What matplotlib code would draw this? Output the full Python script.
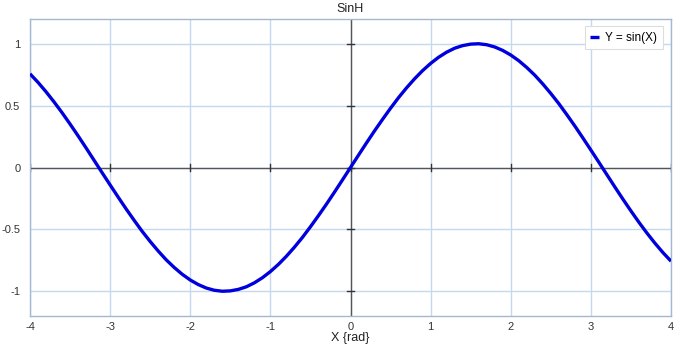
import matplotlib
matplotlib.use("Agg")
import matplotlib.pyplot as plt
import numpy as np

plt.rcParams['font.family'] = ['Liberation Sans', 'DejaVu Sans']

title = "SinH"
x_label = "X {rad}"
series_label = "Y = sin(X)"

x_values = [-4.0, -3.9, -3.8, -3.7, -3.6, -3.5, -3.4, -3.3, -3.2, -3.1,
            -3.0, -2.9, -2.8, -2.7, -2.6, -2.5, -2.4, -2.3, -2.2, -2.1,
            -2.0, -1.9, -1.8, -1.7, -1.6, -1.5, -1.4, -1.3, -1.2, -1.1,
            -1.0, -0.9, -0.8, -0.7, -0.6, -0.5, -0.4, -0.3, -0.2, -0.1,
            0.0, 0.1, 0.2, 0.3, 0.4, 0.5, 0.6, 0.7, 0.8, 0.9,
            1.0, 1.1, 1.2, 1.3, 1.4, 1.5, 1.6, 1.7, 1.8, 1.9,
            2.0, 2.1, 2.2, 2.3, 2.4, 2.5, 2.6, 2.7, 2.8, 2.9,
            3.0, 3.1, 3.2, 3.3, 3.4, 3.5, 3.6, 3.7, 3.8, 3.9, 4.0]
y_values = [0.757, 0.688, 0.612, 0.530, 0.443, 0.351, 0.256, 0.158, 0.058, -0.042,
            -0.141, -0.239, -0.335, -0.427, -0.516, -0.598, -0.675, -0.746, -0.808, -0.863,
            -0.909, -0.946, -0.974, -0.992, -1.000, -0.997, -0.985, -0.964, -0.932, -0.891,
            -0.841, -0.783, -0.717, -0.644, -0.565, -0.479, -0.389, -0.296, -0.199, -0.100,
            0.000, 0.100, 0.199, 0.296, 0.389, 0.479, 0.565, 0.644, 0.717, 0.783,
            0.841, 0.891, 0.932, 0.964, 0.985, 0.997, 1.000, 0.992, 0.974, 0.946,
            0.909, 0.863, 0.808, 0.746, 0.675, 0.598, 0.516, 0.427, 0.335, 0.239,
            0.141, 0.042, -0.058, -0.158, -0.256, -0.351, -0.443, -0.530, -0.612, -0.688, -0.757]

x_ticks = [-4, -3, -2, -1, 0, 1, 2, 3, 4]
x_tick_labels = ["-4", "-3", "-2", "-1", "0", "1", "2", "3", "4"]
y_ticks = [-1, -0.5, 0, 0.5, 1]
y_tick_labels = ["-1", "-0.5", "0", "0.5", "1"]

fig = plt.figure(figsize=(6.79, 3.46), dpi=100)
ax = fig.add_axes([30/679, 30/346, 641/679, 297/346])
ax.set_xlim(-4, 4)
ax.set_ylim(-1.2, 1.2)

ax.set_xticks(x_ticks)
ax.set_xticklabels(x_tick_labels)
ax.set_yticks(y_ticks)
ax.set_yticklabels(y_tick_labels)
ax.tick_params(axis='x', length=0, labelsize=8, colors='#333333', pad=4)
ax.tick_params(axis='y', length=0, labelsize=8, colors='#333333', pad=7)
ax.grid(True, color='#c4d8f0', linewidth=1.0)
ax.set_axisbelow(True)
for s in ax.spines.values():
    s.set_color('#a4b8d4')
    s.set_linewidth(1.0)

# zero axes with small tick marks
ax.axhline(0, color='#555555', linewidth=1.0, zorder=2)
ax.axvline(0, color='#555555', linewidth=1.0, zorder=2)
for xt in x_ticks:
    ax.plot([xt, xt], [-0.025, 0.025], color='#333333', linewidth=1.0, zorder=2)
for yt in y_ticks:
    ax.plot([-0.04, 0.04], [yt, yt], color='#333333', linewidth=1.0, zorder=2)

ax.plot(x_values, y_values, color='#0000dd', linewidth=2.4, label=series_label,
        zorder=3, solid_capstyle='butt')

leg = ax.legend(loc='upper right', fontsize=8.5, handlelength=0.8, handletextpad=0.5,
                borderpad=0.45, fancybox=False, framealpha=1, edgecolor='#dddddd',
                bbox_to_anchor=(0.996, 0.995))
leg.get_frame().set_linewidth(0.8)

ax.set_title(title, fontsize=9, color='#222222', pad=5)
ax.set_xlabel(x_label, fontsize=9, color='#222222', labelpad=0)

fig.savefig("out.png", dpi=100)
